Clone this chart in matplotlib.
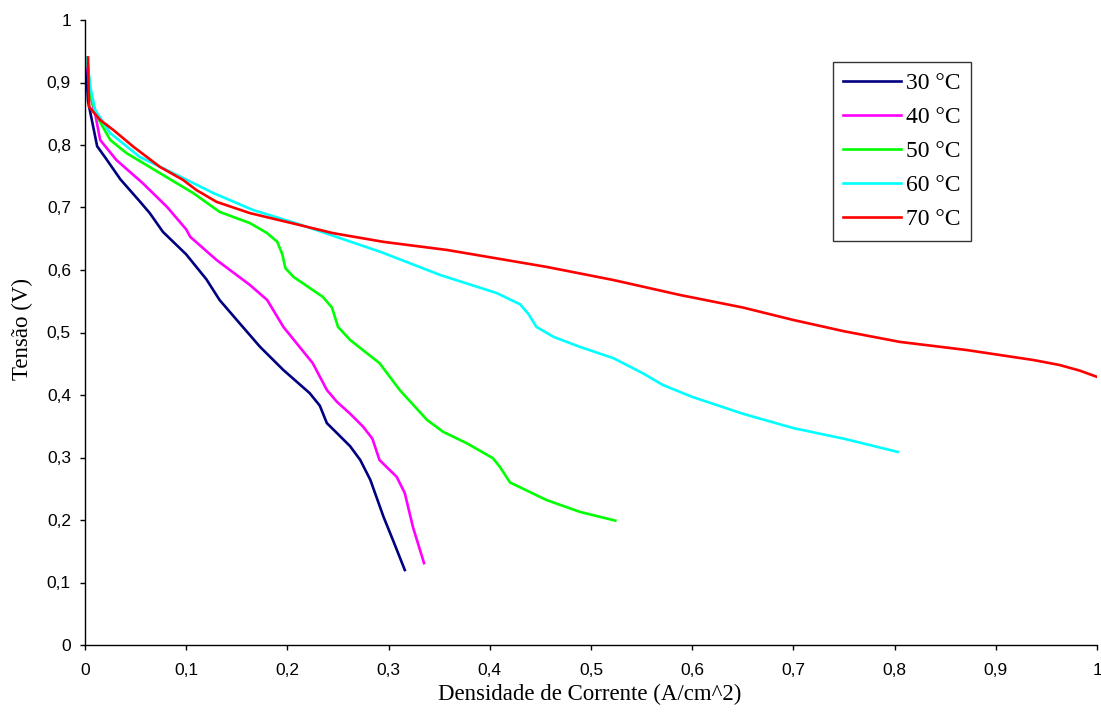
import numpy as np
import matplotlib
matplotlib.use("Agg")
import matplotlib.pyplot as plt
from matplotlib.ticker import FuncFormatter

# Curvas de polarização
x30 = [0.001, 0.003, 0.012, 0.02, 0.035, 0.054, 0.064, 0.077, 0.1, 0.107, 0.12, 0.133, 0.15,
       0.173, 0.196, 0.222, 0.232, 0.239, 0.249, 0.262, 0.272, 0.282, 0.295, 0.305, 0.316]
y30 = [0.93, 0.87, 0.798, 0.78, 0.745, 0.71, 0.691, 0.661, 0.625, 0.611, 0.585, 0.552, 0.52,
       0.477, 0.44, 0.403, 0.383, 0.355, 0.339, 0.318, 0.296, 0.264, 0.205, 0.165, 0.12]

x40 = [0.002, 0.005, 0.01, 0.015, 0.031, 0.057, 0.081, 0.1, 0.104, 0.13, 0.163, 0.18, 0.196,
       0.225, 0.239, 0.249, 0.262, 0.275, 0.284, 0.291, 0.308, 0.316, 0.324, 0.335]
y40 = [0.93, 0.88, 0.85, 0.808, 0.776, 0.739, 0.701, 0.665, 0.653, 0.616, 0.576, 0.552, 0.509,
       0.451, 0.408, 0.389, 0.37, 0.349, 0.33, 0.296, 0.269, 0.243, 0.189, 0.131]

x50 = [0.002, 0.006, 0.012, 0.025, 0.041, 0.074, 0.107, 0.133, 0.163, 0.18, 0.19, 0.195, 0.198,
       0.206, 0.235, 0.244, 0.25, 0.262, 0.291, 0.311, 0.338, 0.354, 0.377, 0.403, 0.41,
       0.42, 0.456, 0.489, 0.524]
y50 = [0.94, 0.875, 0.845, 0.808, 0.787, 0.755, 0.723, 0.693, 0.675, 0.659, 0.645, 0.625, 0.603,
       0.589, 0.557, 0.54, 0.509, 0.488, 0.451, 0.408, 0.36, 0.341, 0.323, 0.299, 0.285,
       0.26, 0.232, 0.213, 0.199]

x60 = [0.002, 0.005, 0.01, 0.025, 0.054, 0.087, 0.127, 0.166, 0.212, 0.292, 0.351, 0.407, 0.43,
       0.438, 0.446, 0.463, 0.489, 0.522, 0.551, 0.571, 0.6, 0.65, 0.7, 0.75, 0.803]
y60 = [0.94, 0.895, 0.856, 0.819, 0.781, 0.755, 0.723, 0.696, 0.673, 0.629, 0.592, 0.563, 0.545,
       0.53, 0.509, 0.493, 0.477, 0.459, 0.435, 0.416, 0.397, 0.37, 0.347, 0.33, 0.309]

x70 = [0.003, 0.004, 0.015, 0.028, 0.048, 0.074, 0.097, 0.11, 0.13, 0.163, 0.212, 0.245, 0.295,
       0.358, 0.456, 0.522, 0.588, 0.65, 0.7, 0.75, 0.805, 0.871, 0.937, 0.963, 0.983, 1.0]
y70 = [0.94, 0.861, 0.84, 0.824, 0.797, 0.765, 0.744, 0.728, 0.709, 0.691, 0.672, 0.659, 0.645,
       0.632, 0.605, 0.584, 0.56, 0.54, 0.52, 0.502, 0.485, 0.472, 0.456, 0.448, 0.439, 0.429]

series = [
    (x30, y30, '30 °C', '#000080'),
    (x40, y40, '40 °C', '#ff00ff'),
    (x50, y50, '50 °C', '#00ff00'),
    (x60, y60, '60 °C', '#00ffff'),
    (x70, y70, '70 °C', '#ff0000'),
]

fig = plt.figure(figsize=(11.01, 7.18), dpi=100)
ax = fig.add_axes([85 / 1101, 1 - 645 / 718, 1012 / 1101, 625 / 718])

for xs, ys, nome, cor in series:
    ax.plot(xs, ys, color=cor, linewidth=1.9, label=nome)

ax.set_xlim(0, 1)
ax.set_ylim(0, 1)
ax.set_xticks(np.arange(0, 1.01, 0.1))
ax.set_yticks(np.arange(0, 1.01, 0.1))

virgula = FuncFormatter(lambda v, p: ('%.1f' % v).rstrip('0').rstrip('.').replace('.', ','))
ax.xaxis.set_major_formatter(virgula)
ax.yaxis.set_major_formatter(virgula)

for s in ['top', 'right']:
    ax.spines[s].set_visible(False)
for s in ['left', 'bottom']:
    ax.spines[s].set_linewidth(1.0)
    ax.spines[s].set_color('black')

ax.tick_params(direction='out', length=3.6, width=1.0, labelsize=12.5)
ax.tick_params(axis='x', pad=9.5)
ax.tick_params(axis='y', pad=6.5)
for lab in ax.get_xticklabels() + ax.get_yticklabels():
    lab.set_family('Liberation Sans')

ax.set_xlabel('Densidade de Corrente (A/cm^2)', family='Liberation Serif', fontsize=16.5, va='center')
ax.set_ylabel('Tensão (V)', family='Liberation Serif', fontsize=16.5, va='center')
ax.xaxis.set_label_coords(0.499, -0.0784)
ax.yaxis.set_label_coords(-0.062, 0.505)

leg = ax.legend(loc='upper left', bbox_to_anchor=(0.739, 0.933), borderaxespad=0,
                prop={'family': 'Liberation Serif', 'size': 17}, fancybox=False,
                edgecolor='black', handlelength=2.45, labelspacing=0.53,
                borderpad=0.45, handletextpad=0.2)
leg.get_frame().set_linewidth(1.0)

fig.savefig('out.png', dpi=100)
